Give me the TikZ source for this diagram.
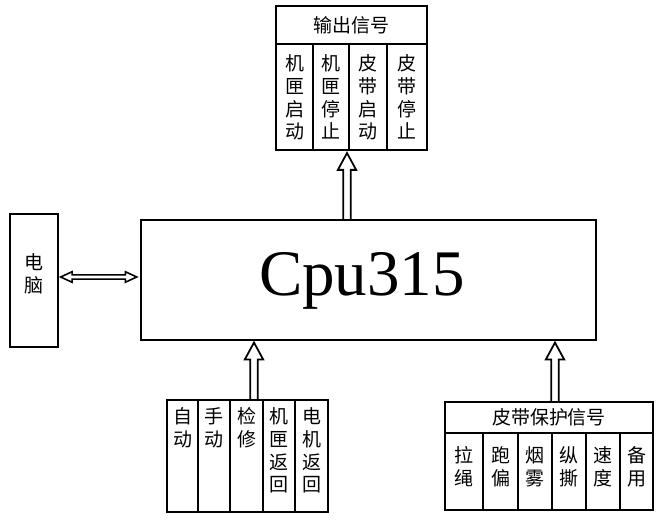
\documentclass[tikz,border=0pt]{standalone}
\usepackage{fontspec}
\setmainfont{Liberation Serif}
\newfontfamily\cjk{Noto Sans CJK SC}
\usetikzlibrary{calc}

\begin{document}
\begin{tikzpicture}[
  x=0.02cm, y=-0.02cm,
  cell/.style={draw,line width=1pt,inner sep=0pt},
  head/.style={cell,font=\cjk\fontsize{10.8}{13}\selectfont},
  lbl/.style={font=\cjk\fontsize{10.8}{13}\selectfont,align=center,inner sep=0pt,anchor=north},
  uparrow/.style={line width=1pt,line join=miter,to path={let \p1=(\tikztostart),\p2=(\tikztotarget) in
    (\x1-2.1pt,\y1) -- (\x1-2.1pt,\y2-9.6pt) -- (\x1-5.2pt,\y2-9.6pt) -- (\x2,\y2)
    -- (\x1+5.2pt,\y2-9.6pt) -- (\x1+2.1pt,\y2-9.6pt) -- (\x1+2.1pt,\y1)}},
  lrarrow/.style={line width=0.9pt,line join=miter,to path={let \p1=(\tikztostart),\p2=(\tikztotarget) in
    (\x1,\y1) -- (\x1+6.5pt,\y1+3pt) -- (\x1+6.5pt,\y1+1.2pt) -- (\x2-6.5pt,\y1+1.2pt)
    -- (\x2-6.5pt,\y1+3pt) -- (\x2,\y1) -- (\x2-6.5pt,\y1-3pt) -- (\x2-6.5pt,\y1-1.2pt)
    -- (\x1+6.5pt,\y1-1.2pt) -- (\x1+6.5pt,\y1-3pt) -- cycle}}
]
  \useasboundingbox (0,0) rectangle (665,521);
  % output signals
  \node[head,minimum width=3.02cm,minimum height=0.76cm] (outh) at (351.5,25) {输出信号};
  \node[cell,minimum width=0.74cm,minimum height=2.12cm] (o1) at (294.5,97) {};
  \node[cell,minimum width=0.72cm,minimum height=2.12cm] (o2) at (331,97) {};
  \node[cell,minimum width=0.76cm,minimum height=2.12cm] (o3) at (368,97) {};
  \node[cell,minimum width=0.80cm,minimum height=2.12cm] (o4) at (407,97) {};
  \node[lbl] (to1) at ([yshift=-0.22cm]o1.north) {机\\匣\\启\\动};
  \node[lbl] (to2) at ([yshift=-0.22cm]o2.north) {机\\匣\\停\\止};
  \node[lbl] (to3) at ([yshift=-0.22cm]o3.north) {皮\\带\\启\\动};
  \node[lbl] (to4) at ([yshift=-0.22cm]o4.north) {皮\\带\\停\\止};
  % cpu and pc
  \node[draw,line width=0.9pt,minimum width=9.1cm,minimum height=2.4cm] (cpu) at (368.5,280) {};
  \node[font=\fontsize{37}{40}\selectfont,anchor=base,inner sep=0pt] (cput) at (362,295) {Cpu315};
  \node[cell,minimum width=0.96cm,minimum height=2.66cm] (pc) at (34,280.5) {};
  \node[lbl,anchor=center] (tpc) at (34,274) {电\\脑};
  % inputs
  \node[cell,minimum width=0.62cm,minimum height=2.24cm] (i1) at (182.5,456) {};
  \node[cell,minimum width=0.64cm,minimum height=2.24cm] (i2) at (214,456) {};
  \node[cell,minimum width=0.66cm,minimum height=2.24cm] (i3) at (246.5,456) {};
  \node[cell,minimum width=0.64cm,minimum height=2.24cm] (i4) at (279,456) {};
  \node[cell,minimum width=0.66cm,minimum height=2.24cm] (i5) at (311.5,456) {};
  \node[lbl] (ti1) at ([yshift=-0.16cm]i1.north) {自\\动};
  \node[lbl] (ti2) at ([yshift=-0.16cm]i2.north) {手\\动};
  \node[lbl] (ti3) at ([yshift=-0.16cm]i3.north) {检\\修};
  \node[lbl] (ti4) at ([yshift=-0.16cm]i4.north) {机\\匣\\返\\回};
  \node[lbl] (ti5) at ([yshift=-0.16cm]i5.north) {电\\机\\返\\回};
  % belt protection
  \node[head,minimum width=4.16cm,minimum height=0.62cm] (ph) at (549,417.5) {皮带保护信号};
  \node[cell,minimum width=0.76cm,minimum height=1.54cm] (p1) at (464,471.5) {};
  \node[cell,minimum width=0.70cm,minimum height=1.54cm] (p2) at (500.5,471.5) {};
  \node[cell,minimum width=0.68cm,minimum height=1.54cm] (p3) at (535,471.5) {};
  \node[cell,minimum width=0.68cm,minimum height=1.54cm] (p4) at (569,471.5) {};
  \node[cell,minimum width=0.68cm,minimum height=1.54cm] (p5) at (603,471.5) {};
  \node[cell,minimum width=0.66cm,minimum height=1.54cm] (p6) at (636.5,471.5) {};
  \node[lbl] (tp1) at ([yshift=-0.28cm]p1.north) {拉\\绳};
  \node[lbl] (tp2) at ([yshift=-0.28cm]p2.north) {跑\\偏};
  \node[lbl] (tp3) at ([yshift=-0.28cm]p3.north) {烟\\雾};
  \node[lbl] (tp4) at ([yshift=-0.28cm]p4.north) {纵\\撕};
  \node[lbl] (tp5) at ([yshift=-0.28cm]p5.north) {速\\度};
  \node[lbl] (tp6) at ([yshift=-0.28cm]p6.north) {备\\用};
  % arrows
  \coordinate (oa) at (347,153);
  \coordinate (ia) at (254,400);
  \coordinate (pa) at (555,402);
  \draw[uparrow] (oa |- cpu.north) to (oa);
  \draw[uparrow] (ia) to ([yshift=-1pt]ia |- cpu.south);
  \draw[uparrow] (pa) to ([yshift=-1pt]pa |- cpu.south);
  \draw[lrarrow] ([xshift=1pt,yshift=2pt]pc.east) to ([xshift=-2pt,yshift=2pt]cpu.west);
\end{tikzpicture}
\end{document}
